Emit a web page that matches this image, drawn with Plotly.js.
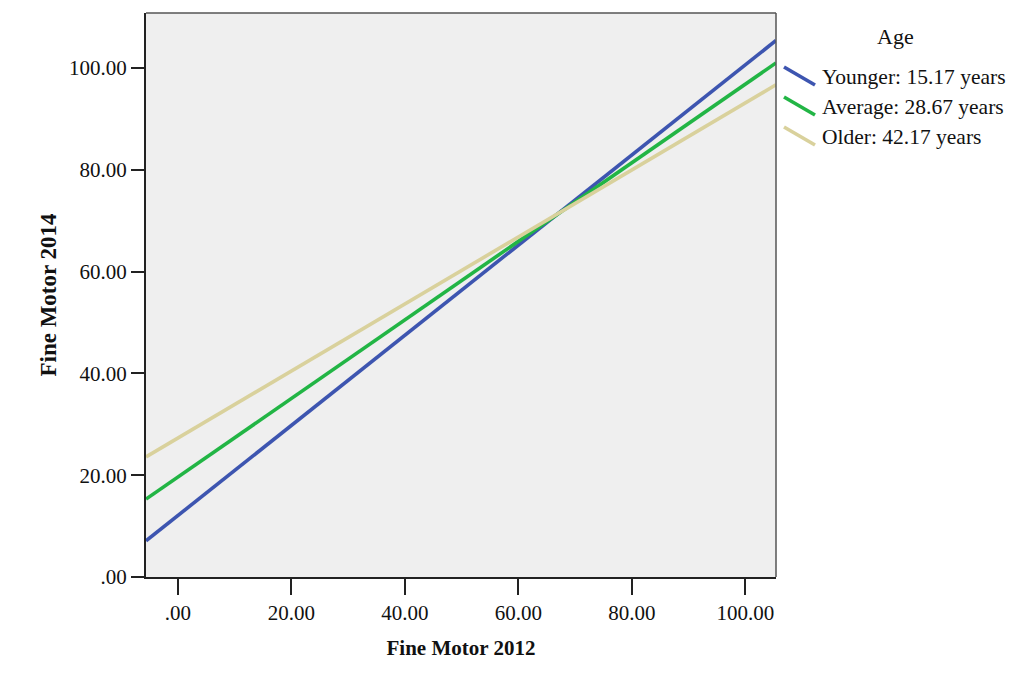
<!DOCTYPE html>
<html>
<head>
<meta charset="utf-8">
<script src="https://cdn.plot.ly/plotly-3.0.1.min.js"></script>
<style>html,body{margin:0;padding:0;background:#fff;}#chart{width:1025px;height:684px;}</style>
</head>
<body>
<div id="chart"></div>
<script>
// ---- data ----
var seriesNames = ["Younger: 15.17 years", "Average: 28.67 years", "Older: 42.17 years"];
var fineMotor2012 = [-5.6, 105.4];
var youngerY = [7.1, 105.4];
var averageY = [15.3, 101.0];
var olderY = [23.6, 96.7];
var xTickVals = [0, 20, 40, 60, 80, 100];
var xTickText = [".00", "20.00", "40.00", "60.00", "80.00", "100.00"];
var yTickVals = [0, 20, 40, 60, 80, 100];
var yTickText = [".00", "20.00", "40.00", "60.00", "80.00", "100.00"];
var legendTitle = "Age";
var xTitle = "Fine Motor 2012";
var yTitle = "Fine Motor 2014";

// ---- styling ----
var colors = ["#3d55b0", "#22b545", "#d9d19c"];
var seriesY = [youngerY, averageY, olderY];
var FONT = "Liberation Serif, Times New Roman, serif";

var L = 146, R = 776, T = 13, B = 577, W = 1025, H = 684;
function px(x) { return (x - L) / (R - L); }
function py(y) { return (B - y) / (B - T); }

var traces = seriesY.map(function (ys, i) {
  return {
    x: fineMotor2012, y: ys, type: "scatter", mode: "lines",
    name: seriesNames[i], showlegend: false,
    line: { color: colors[i], width: 3.6 }, hoverinfo: "x+y+name"
  };
});

var shapes = [];
var annotations = [];
var legendRowsY = [77, 107, 137];
seriesNames.forEach(function (n, i) {
  var cy = legendRowsY[i];
  shapes.push({
    type: "line", xref: "paper", yref: "paper",
    x0: px(784), y0: py(cy - 10), x1: px(815), y1: py(cy + 8),
    line: { color: colors[i], width: 3.6 }
  });
  annotations.push({
    xref: "paper", yref: "paper", x: px(820), y: py(cy),
    xanchor: "left", yanchor: "middle", showarrow: false,
    text: n, font: { family: FONT, size: 21.5, color: "#111" }
  });
});
annotations.push({
  xref: "paper", yref: "paper", x: px(895), y: py(37),
  xanchor: "center", yanchor: "middle", showarrow: false,
  text: legendTitle, font: { family: FONT, size: 22, color: "#111" }
});

var layout = {
  width: W, height: H,
  margin: { l: L, r: W - R, t: T, b: H - B, pad: 0 },
  paper_bgcolor: "#ffffff",
  plot_bgcolor: "#efefef",
  font: { family: FONT, size: 21, color: "#111" },
  xaxis: {
    range: [fineMotor2012[0], fineMotor2012[1]],
    tickmode: "array", tickvals: xTickVals, ticktext: xTickText,
    ticks: "outside", ticklen: 16, tickwidth: 2, tickcolor: "#222",
    showline: true, linecolor: "#222", linewidth: 2, mirror: false,
    showgrid: false, zeroline: false,
    tickfont: { family: FONT, size: 21, color: "#111" },
    title: { text: "<b>" + xTitle + "</b>", font: { family: FONT, size: 21, color: "#111" }, standoff: 16 }
  },
  yaxis: {
    range: [0, 110.8],
    tickmode: "array", tickvals: yTickVals, ticktext: yTickText,
    ticks: "outside", ticklen: 13, tickwidth: 2, tickcolor: "#222",
    showline: true, linecolor: "#222", linewidth: 2, mirror: false,
    showgrid: false, zeroline: false,
    tickfont: { family: FONT, size: 21, color: "#111" },
    title: { text: "<b>" + yTitle + "</b>", font: { family: FONT, size: 23, color: "#111" }, standoff: 6 }
  },
  shapes: [
    { type: "line", xref: "paper", yref: "paper", x0: 0, y0: 1, x1: 1, y1: 1, line: { color: "#555", width: 1.5 } },
    { type: "line", xref: "paper", yref: "paper", x0: 1, y0: 0, x1: 1, y1: 1, line: { color: "#555", width: 1.5 } }
  ].concat(shapes),
  annotations: annotations
};

Plotly.newPlot("chart", traces, layout, { displayModeBar: false, staticPlot: true });
</script>
</body>
</html>
